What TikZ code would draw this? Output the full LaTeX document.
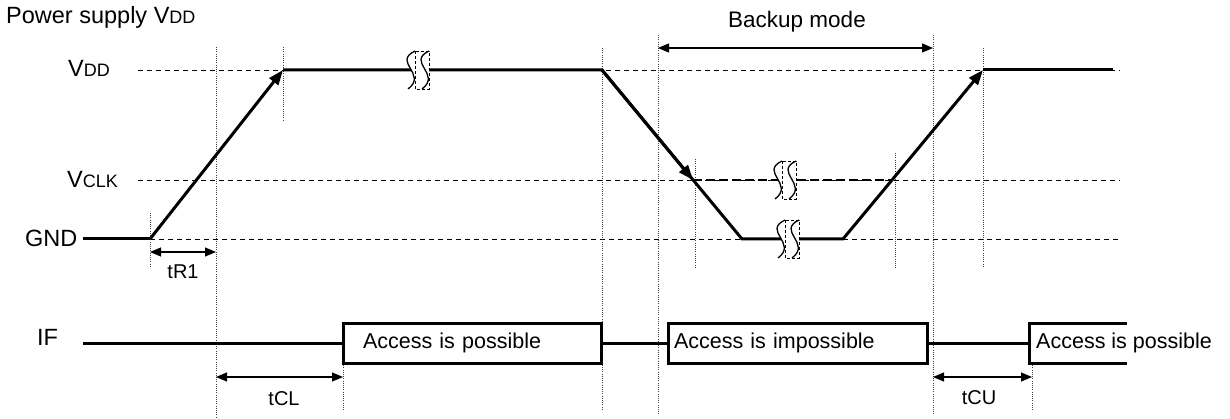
\documentclass[tikz,border=0pt]{standalone}
\usepackage{fontspec}
\setmainfont{Liberation Sans}
\usetikzlibrary{arrows.meta}

\newcommand{\lowcap}[1]{{\fontsize{18}{18}\selectfont #1}}

\begin{document}
\begin{tikzpicture}[x=1pt, y=-1pt, font=\fontsize{21.5}{26}\selectfont,
  wave/.style={line width=3pt},
  guide/.style={line width=0.9pt, dash pattern=on 5pt off 4pt},
  vline/.style={line width=0.9pt, black!75, dash pattern=on 1pt off 1.2pt},
  ramp/.style={wave, -{Triangle[length=15pt, width=11pt]}},
  dim/.style={line width=1.2pt, {Triangle[length=11pt, width=9pt]}-{Triangle[length=11pt, width=9pt]}},
  lbl/.style={inner sep=0pt},
  biglbl/.style={lbl, font=\fontsize{23.5}{26}\selectfont},
  timelbl/.style={lbl, font=\fontsize{20}{24}\selectfont},
  gapbox/.style={draw, line width=3pt, minimum height=40pt, inner xsep=20pt, inner ysep=0pt},
  wavebreak/.pic={
    \fill[white] (-3,-19) .. controls (-26,-8) and (10,4) .. (-10,19) -- (4,19)
      .. controls (24,4) and (-12,-8) .. (11,-19) -- cycle;
    \fill[white] (-3,-19) rectangle (11,19);
    \draw[line width=0.8pt, dash pattern=on 3pt off 2pt] (-3,-19) rectangle (11,19);
    \draw[line width=1.3pt] (-3,-19) .. controls (-26,-8) and (10,4) .. (-10,19);
    \draw[line width=1.3pt] (11,-19) .. controls (-12,-8) and (24,4) .. (4,19);
  }]
\useasboundingbox (0,0) rectangle (1230,419);

\node[biglbl, anchor=base west] (title) at (6,24) {Power supply V\lowcap{DD}};
\node[biglbl, anchor=base west] (lvdd) at (68,77) {V\lowcap{DD}};
\node[biglbl, anchor=base west] (lvclk) at (67,188) {V\lowcap{CLK}};
\node[biglbl, anchor=base west] (lgnd) at (25,247) {GND};
\node[biglbl, anchor=base west] (lif) at (37,345) {IF};

\draw[guide] (138,70) -- (1120,70);
\draw[guide] (138,180) -- (1120,180);
\draw[guide] (150,239) -- (1120,239);

\draw[vline] (150,213) -- (150,268) (216,47) -- (216,419) (283,47) -- (283,120)
  (343,363) -- (343,410) (602,48) -- (602,410) (658,35) -- (658,415)
  (695,159) -- (695,268) (895,153) -- (895,268) (933,35) -- (933,415)
  (983,48) -- (983,268) (1032,363) -- (1032,410);

\coordinate (g0) at (83,239);
\coordinate (r0) at (150,239);
\coordinate (r1) at (283,70);
\coordinate (f0) at (602,70);
\coordinate (fv) at (693,180);
\coordinate (f1) at (742,239);
\coordinate (u0) at (843,239);
\coordinate (uv) at (892,180);
\coordinate (u1) at (983,70);
\coordinate (e1) at (1113,70);

\draw[wave] (g0) -- (r0);
\draw[ramp] (r0) -- (r1);
\draw[wave] (r1) -- (f0) -- (f1) -- (u0) -- (uv);
\draw[ramp] (f0) -- (fv);
\draw[ramp] (uv) -- (u1);
\draw[wave] (u1) -- (e1);
\draw[line width=2.6pt, dash pattern=on 9pt off 4pt] (fv) -- (uv);

\pic at (418,70) {wavebreak};
\pic at (785,180) {wavebreak};
\pic at (788,239) {wavebreak};

\coordinate (if0) at (83,343);
\node[gapbox, text width=218pt, align=left] (acc1) at (472,343) {Access is possible};
\node[gapbox, text width=247pt, inner xsep=6pt, align=left] (acc2) at (797.5,343) {Access is impossible};
\coordinate (b3t) at (1127,323);
\coordinate (b3l) at (1029,343);
\coordinate (b3b) at (1127,363);
\draw[wave] (if0) -- (acc1.west) (acc1.east) -- (acc2.west) (acc2.east) -- (b3l);
\draw[wave] (b3t) -| (b3l) |- (b3b);
\node[lbl, anchor=west] (acc3) at (1036,343) {Access is possible};

\coordinate (tr1a) at (150,252);
\coordinate (tr1b) at (216,252);
\coordinate (tcla) at (216,377);
\coordinate (tclb) at (343,377);
\coordinate (tcua) at (933,377);
\coordinate (tcub) at (1032,377);
\coordinate (bka) at (658,48);
\coordinate (bkb) at (933,48);
\draw[dim] (tr1a) -- (tr1b);
\draw[dim] (tcla) -- (tclb);
\draw[dim] (tcua) -- (tcub);
\draw[dim] (bka) -- (bkb);
\node[timelbl, anchor=base] (ttr1) at (183,279) {tR1};
\node[timelbl, anchor=base] (ttcl) at (284,405) {tCL};
\node[timelbl, anchor=base] (ttcu) at (979,404) {tCU};
\node[lbl, font=\fontsize{22.5}{26}\selectfont, anchor=base] (tbk) at (797,28) {Backup mode};
\end{tikzpicture}
\end{document}
